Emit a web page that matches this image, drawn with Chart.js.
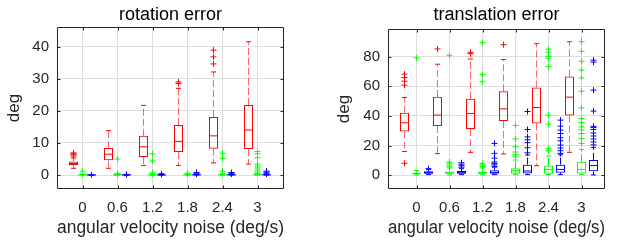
<!DOCTYPE html>
<html>
<head>
<meta charset="utf-8">
<script src="https://cdn.jsdelivr.net/npm/chart.js@4/dist/chart.umd.min.js"></script>
<style>
html,body{margin:0;padding:0;background:#fff;}
#wrap{position:relative;width:624px;height:241px;overflow:hidden;}
canvas{position:absolute;top:0;}
</style>
</head>
<body>
<div id="wrap">
  <canvas id="rot" width="312" height="241" style="left:0"></canvas>
  <canvas id="tra" width="312" height="241" style="left:312px"></canvas>
</div>
<script>
/* ---------- data ---------- */
const cats = ['0', '0.6', '1.2', '1.8', '2.4', '3'];
const rotTicks = [0, 10, 20, 30, 40];
const traTicks = [0, 20, 40, 60, 80];

// each row: [lower whisker, q1, median, q3, upper whisker]
const rotRed = [[2.1,3.1,3.6,4.2,5.3],[2.1,4.6,6.5,8.4,13.8],[3.0,5.6,8.8,12.2,21.7],
                [3.0,7.2,10.5,15.6,27.0],[3.8,8.2,12.2,18.1,32.1],[3.4,8.1,14.0,21.8,41.5]];
const rotRedOut = [[5.9,6.3,6.6,6.9],[],[],[28.5,29.0],[34.6,36.8,38.9],[]];
const rotGreen = [[0,0,0.02,0.05,0.1],[0,0,0.02,0.05,0.1],[0,0,0.05,0.1,0.2],
                  [0,0,0.05,0.1,0.2],[0,0,0.05,0.1,0.2],[0,0.05,0.1,0.2,0.3]];
const rotGreenOut = [[0.3,1.2],[0.2,0.5,5.0],[0.3,0.7,4.4,6.6],[0.3,0.6],
                     [0.4,1.2,5.2,6.8],[0.5,1.0,1.6,2.2,2.8,3.4,5.4,6.6,7.3]];
const rotBlue = [[0,0,0.01,0.02,0.05],[0,0,0.01,0.02,0.05],[0,0,0.02,0.05,0.1],
                 [0,0,0.05,0.1,0.2],[0,0,0.05,0.1,0.2],[0,0,0.05,0.1,0.2]];
const rotBlueOut = [[0.05],[0.1,0.2],[0.2,0.4],[0.3,0.6,0.8],[0.3,0.6,0.8],[0.3,0.6,0.9,1.2]];

const traRed = [[16.1,29.6,35.4,42.2,52.4],[14.6,33.2,40.6,52.9,74.9],[15.5,31.2,41.7,51.6,78.4],
                [14.4,36.6,44.8,56.7,78.0],[6.5,35.0,45.7,59.2,88.7],[15.5,40.3,52.7,66.6,90.0]];
const traRedOut = [[8.1,60.8,63.4,65.9,68.2],[85.2],[82.0,82.9],[88.0],[],[]];
const traGreen = [[0.3,0.8,1.2,1.8,3.3],[0.3,1.0,1.6,2.6,5.0],[0.3,1.0,1.6,2.5,5.0],
                  [0.5,1.1,3.2,4.7,10.3],[0.5,1.1,4.0,6.7,13.0],[0.5,1.3,4.0,9.2,17.5]];
const traGreenOut = [[79.1],[5.8,7.0,8.2,9.0,80.9],[6.0,7.0,8.0,63.0,67.9,89.4],
                     [12.5,14.1,15.7,19.3,24.5,33.6],
                     [16.6,18.2,34.5,40.6,73.2,79.0,80.2,83.0,85.0],
                     [21.5,24.9,28.2,30.5,32.7,35.6,38.3,45.5,56.7,65.7,70.9,76.9,83.6,90.0]];
const traBlue = [[0.5,1.0,1.8,2.8,3.8],[0.5,1.0,1.8,3.0,4.5],[0.5,1.0,2.0,3.4,5.5],
                 [0.5,1.3,2.9,7.2,13.7],[0.5,1.8,4.0,7.2,13.8],[0.3,2.7,6.6,10.4,18.8]];
const traBlueOut = [[4.5],[5.5,6.5,7.5,8.5],[6.0,7.0,8.0,9.0,11.6,14.8,21.5],
                    [15.2,18.6,22.0,24.0,25.9,30.9,43.0],
                    [14.8,16.6,18.4,20.4,23.3,25.3,28.2,30.5,33.2,37.2],
                    [20.5,22.5,24.5,26.5,28.5,30.9,32.3,33.0,43.3,57.4,76.3,77.6]];

/* ---------- helpers ---------- */
const RED = '#ff0000', GREEN = '#00ff00', BLUE = '#0000ff';
const FONT = '"Liberation Sans", Arial, Helvetica, sans-serif';
const INK = '#262626';

function boxSets(stats, outs, off, col, whiskCol){
  const xs = stats.map((_, i) => i + off);
  const whisk = [];
  stats.forEach((r, i) => {
    whisk.push({x:xs[i], y:r[3]}, {x:xs[i], y:r[4]}, {x:xs[i], y:null},
               {x:xs[i], y:r[1]}, {x:xs[i], y:r[0]}, {x:xs[i], y:null});
  });
  const pts = (data, style, r) => ({
    type:'scatter', data, pointStyle:style, pointRadius:r, pointHoverRadius:r,
    pointBorderColor:col, pointBackgroundColor:'rgba(0,0,0,0)', pointBorderWidth:1
  });
  return [
    {type:'bar', data:stats.map((r, i) => ({x:xs[i], y:[r[1], r[3]]})),
     borderColor:col, backgroundColor:'rgba(0,0,0,0)', borderWidth:1,
     borderSkipped:false, barThickness:9, grouped:false, inflateAmount:0},
    {type:'line', data:whisk, borderColor:whiskCol || col, borderWidth:1, borderDash:[7,3],
     pointRadius:0, spanGaps:false, fill:false},
    pts(stats.flatMap((r, i) => [{x:xs[i], y:r[0]}, {x:xs[i], y:r[4]}]), 'line', 2.5),
    pts(stats.map((r, i) => ({x:xs[i], y:r[2]})), 'line', 4.5),
    pts(outs.flatMap((o, i) => o.map(v => ({x:xs[i], y:v}))), 'cross', 3)
  ];
}

// axes box + inward ticks, matlab style
const axesBox = {
  id:'axesBox',
  afterDraw(chart){
    const ctx = chart.ctx, a = chart.chartArea;
    const sx = chart.scales.x, sy = chart.scales.y;
    const L = Math.round(a.left) + 0.5, R = Math.round(a.right) - 0.5;
    const T = Math.round(a.top) + 0.5, B = Math.round(a.bottom) - 0.5;
    ctx.save();
    ctx.strokeStyle = INK;
    ctx.lineWidth = 1;
    ctx.setLineDash([]);
    ctx.beginPath();
    ctx.rect(L, T, R - L, B - T);
    sx.ticks.forEach(t => {
      const p = Math.round(sx.getPixelForValue(t.value)) + 0.5;
      ctx.moveTo(p, B); ctx.lineTo(p, B - 3);
      ctx.moveTo(p, T); ctx.lineTo(p, T + 3);
    });
    sy.ticks.forEach(t => {
      const p = Math.round(sy.getPixelForValue(t.value)) + 0.5;
      ctx.moveTo(L, p); ctx.lineTo(L + 3, p);
      ctx.moveTo(R, p); ctx.lineTo(R - 3, p);
    });
    ctx.stroke();
    ctx.restore();
  }
};

function makeChart(id, o){
  return new Chart(document.getElementById(id), {
    type:'scatter',
    data:{datasets:[
      ...boxSets(o.red, o.redOut, -o.off, RED, 'rgba(255,0,0,0.6)'),
      ...boxSets(o.green, o.greenOut, 0, GREEN),
      ...boxSets(o.blue, o.blueOut, o.off, BLUE)
    ]},
    options:{
      responsive:false, animation:false, events:[],
      layout:{padding:{left:0, right:o.padR, top:0, bottom:0}},
      plugins:{
        legend:{display:false}, tooltip:{enabled:false},
        title:{display:true, fullSize:false, text:o.title, color:'#000',
               font:{family:FONT, size:18, weight:'normal'},
               padding:{top:4, bottom:o.titleB}}
      },
      scales:{
        x:{type:'linear', min:o.xMin, max:o.xMax, offset:false,
           afterBuildTicks:s => { s.ticks = cats.map((_, i) => ({value:i})); },
           afterFit:s => { s.height = 52; },
           ticks:{callback:v => cats[v], color:INK, font:{family:FONT, size:15},
                  padding:10, maxRotation:0, autoSkip:false},
           grid:{color:'#dedede', drawTicks:false, offset:false}, border:{display:false},
           title:{display:true, text:'angular velocity noise (deg/s)', color:INK,
                  font:{family:FONT, size:18.7}, padding:{top:0, bottom:1.5}}},
        y:{type:'linear', min:o.yMin, max:o.yMax,
           afterBuildTicks:s => { s.ticks = o.yTicks.map(v => ({value:v})); },
           afterFit:s => { s.width = o.yW; },
           ticks:{color:INK, font:{family:FONT, size:15}, padding:8},
           grid:{color:'#dedede', drawTicks:false}, border:{display:false},
           title:{display:true, text:'deg', color:INK,
                  font:{family:FONT, size:17}, padding:{top:o.yTitleP, bottom:0}}}
      }
    },
    plugins:[axesBox]
  });
}

makeChart('rot', {
  title:'rotation error', red:rotRed, redOut:rotRedOut, green:rotGreen, greenOut:rotGreenOut,
  blue:rotBlue, blueOut:rotBlueOut, off:9/35, xMin:-25.5/35, xMax:201.5/35,
  yMin:-4.35, yMax:46.1, yTicks:rotTicks, yW:57, padR:28, titleB:1.4, yTitleP:3.8
});
makeChart('tra', {
  title:'translation error', red:traRed, redOut:traRedOut, green:traGreen, greenOut:traGreenOut,
  blue:traBlue, blueOut:traBlueOut, off:12/33, xMin:-28.5/33, xMax:188.5/33,
  yMin:-9.2, yMax:98.6, yTicks:traTicks, yW:76, padR:19, titleB:3.4, yTitleP:22
});
</script>
</body>
</html>
